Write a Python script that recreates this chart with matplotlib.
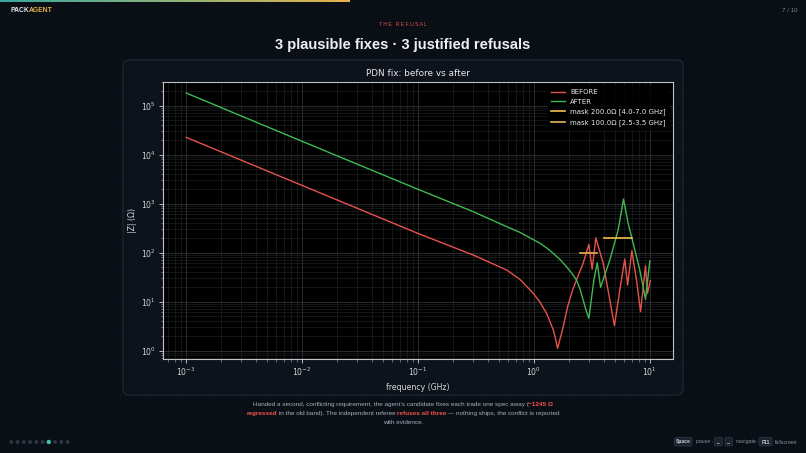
import matplotlib
matplotlib.use('Agg')
import numpy as np
import matplotlib.pyplot as plt
from matplotlib.patches import FancyBboxPatch, Circle
from matplotlib.colors import LinearSegmentedColormap
from matplotlib.ticker import LogLocator, NullFormatter

# ---------------- data ----------------
before_freq = [0.001, 0.01, 0.1, 0.300, 0.582, 0.757, 0.986, 1.125, 1.285, 1.37,
               1.47, 1.53, 1.60, 1.70, 1.79, 1.96, 2.16, 2.40, 2.66, 2.98,
               3.18, 3.42, 3.96, 4.52, 4.95, 5.51, 6.08, 6.43, 7.00, 7.67,
               8.32, 9.18, 9.55, 10.1]
before_z = [22400, 2340, 245, 88.9, 44.0, 28.4, 14.7, 9.8, 5.74, 4.0,
            2.62, 1.8, 1.11, 1.9, 3.06, 8.1, 17.2, 33, 60.3, 147,
            45.4, 200, 60.3, 10.7, 3.21, 17.2, 73.6, 21.7, 109, 27.5,
            6.19, 53.8, 14.7, 26.6]

after_freq = [0.001, 0.01, 0.1, 0.300, 0.582, 0.757, 1.13, 1.30, 1.47, 1.70,
              1.91, 2.12, 2.33, 2.50, 2.66, 2.82, 2.98, 3.29, 3.52, 3.76,
              4.52, 5.33, 5.93, 6.50, 7.43, 8.20, 9.18, 10.0]
after_z = [180000, 18600, 1950, 681, 337, 258, 154, 122, 96, 70,
           51.3, 38, 27.5, 18, 10.7, 6.6, 4.54, 27.5, 61.7, 19.5,
           70.3, 288, 1230, 398, 112, 43.7, 11.1, 67.1]

mask_levels = [200.0, 100.0]
mask_lo = [4.0, 2.5]
mask_hi = [7.0, 3.5]
mask_labels = ['mask 200.0\u03a9 [4.0-7.0 GHz]', 'mask 100.0\u03a9 [2.5-3.5 GHz]']
mask_colors = ['#f2c14e', '#e9b35a']

series_labels = ['BEFORE', 'AFTER']
series_colors = ['#e5534b', '#3fb950']

title_text = '3 plausible fixes \u00b7 3 justified refusals'
kicker_text = 'THE REFUSAL'
chart_title = 'PDN fix: before vs after'

# ---------------- figure ----------------
W, H = 806, 453
BG = '#0a0e15'
fig = plt.figure(figsize=(W / 100, H / 100), dpi=100, facecolor=BG)
bg = fig.add_axes([0, 0, 1, 1])
bg.set_xlim(0, W)
bg.set_ylim(H, 0)
bg.axis('off')
R = fig.canvas.get_renderer()

SANS = ['Liberation Sans', 'DejaVu Sans']

# faint slide grid
for gx in range(0, W, 30):
    bg.plot([gx, gx], [0, H], color='#0e131b', lw=0.6, zorder=0)
for gy in range(0, H, 30):
    bg.plot([0, W], [gy, gy], color='#0e131b', lw=0.6, zorder=0)

# progress bar
cmap = LinearSegmentedColormap.from_list('pb', ['#3aa7a0', '#8fb27a', '#e6b34a'])
bg.imshow(np.linspace(0, 1, 256)[None, :], cmap=cmap, extent=[0, 350, 2.2, 0],
          aspect='auto', zorder=2)
bg.set_xlim(0, W)
bg.set_ylim(H, 0)


def tw(s, **kw):
    t = bg.text(0, 0, s + '|', **kw)
    w1 = t.get_window_extent(R).width
    t.remove()
    t = bg.text(0, 0, '|', **kw)
    w2 = t.get_window_extent(R).width
    t.remove()
    return w1 - w2


def runs_line(runs, x, y, size, family=SANS, ha='center'):
    widths = [tw(s, fontsize=size, fontweight=wt, family=family) for s, c, wt in runs]
    total = sum(widths)
    if ha == 'center':
        x0 = x - total / 2
    elif ha == 'right':
        x0 = x - total
    else:
        x0 = x
    for (s, c, wt), w in zip(runs, widths):
        bg.text(x0, y, s, color=c, fontsize=size, fontweight=wt, family=family,
                ha='left', va='center', zorder=5)
        x0 += w
    return total


# header
runs_line([('PACK', '#e6e8eb', 'bold'), ('AGENT', '#e6b34a', 'bold')], 10.5, 10.5, 4.9,
          ha='left')
runs_line([('7 / 10', '#7d8590', 'normal')], 797, 10.5, 4.4, ha='right')
runs_line([('T H E   R E F U S A L', '#e5534b', 'normal')], 403, 25, 3.7)

# title
tsize = 11.5
w = tw(title_text, fontsize=tsize, fontweight='bold', family=SANS)
tsize *= 256 / w
bg.text(403, 45, title_text, fontsize=tsize, fontweight='bold', family=SANS,
        color='#eef0f3', ha='center', va='center')

# card
card = FancyBboxPatch((123, 60), 560, 335, boxstyle='round,pad=0,rounding_size=6',
                      fc='#0e131b', ec='#222a36', lw=0.8, zorder=1)
bg.add_patch(card)

# caption
GR = '#a7afbb'
RD = '#f0524a'
cap_size = 4.4
l1 = [('Handed a second, conflicting requirement, the agent\u2019s candidate fixes each trade one spec away (', GR, 'normal'),
      ('\u22121245 \u03a9', RD, 'bold')]
wl1 = sum(tw(s, fontsize=cap_size, fontweight=wt, family=SANS) for s, c, wt in l1)
cap_size *= 300 / wl1
runs_line(l1, 403, 404.3, cap_size)
runs_line([('regressed', RD, 'bold'),
           (' in the old band). The independent referee ', GR, 'normal'),
           ('refuses all three', RD, 'bold'),
           (' \u2014 nothing ships, the conflict is reported', GR, 'normal')],
          403, 413.5, cap_size)
runs_line([('with evidence.', GR, 'normal')], 403, 422.7, cap_size)

# dots
for i in range(10):
    cx = 11.3 + 6.25 * i
    if i == 6:
        bg.add_patch(Circle((cx, 442), 1.5, color='#3fc1b0', zorder=5))
    else:
        bg.add_patch(Circle((cx, 442), 1.2, color='#2f3744', zorder=5))


# key hints
def keybox(x0, x1, label):
    bg.add_patch(FancyBboxPatch((x0, 437.5), x1 - x0, 8.5,
                                boxstyle='round,pad=0,rounding_size=1.5',
                                fc='#1b222d', ec='#323b49', lw=0.5, zorder=4))
    bg.text((x0 + x1) / 2, 442, label, fontsize=3.6, family=SANS, color='#c9d1d9',
            ha='center', va='center', zorder=5, fontweight='bold')


keybox(674.5, 692, 'Space')
bg.text(695.5, 442, 'pause \u00b7', fontsize=3.7, family=SANS, color='#8b949e', va='center')
keybox(714.5, 722.4, '\u2190')
keybox(725, 732.6, '\u2192')
bg.text(736, 442, 'navigate \u00b7', fontsize=3.7, family=SANS, color='#8b949e', va='center')
keybox(759, 772, 'F11')
bg.text(775, 442, 'fullscreen', fontsize=3.7, family=SANS, color='#8b949e', va='center')

# ---------------- chart ----------------
ax = fig.add_axes([163 / W, 1 - 359 / H, 510 / W, 277 / H])
ax.set_facecolor('#000000')
ax.set_xscale('log')
ax.set_yscale('log')
ax.plot(before_freq, before_z, color=series_colors[0], lw=1.0, label=series_labels[0],
        zorder=3, solid_joinstyle='round')
ax.plot(after_freq, after_z, color=series_colors[1], lw=1.0, label=series_labels[1],
        zorder=3, solid_joinstyle='round')
for lev, lo, hi, lab, col in zip(mask_levels, mask_lo, mask_hi, mask_labels, mask_colors):
    ax.plot([lo, hi], [lev, lev], color=col, lw=1.2, label=lab, zorder=4)
ax.set_xlim(10 ** -3.2, 10 ** 1.2)
ax.set_ylim(10 ** -0.173, 10 ** 5.48)

ax.xaxis.set_major_locator(LogLocator(base=10, numticks=20))
ax.xaxis.set_minor_locator(LogLocator(base=10, subs=np.arange(2, 10), numticks=100))
ax.yaxis.set_major_locator(LogLocator(base=10, numticks=20))
ax.yaxis.set_minor_locator(LogLocator(base=10, subs=np.arange(2, 10), numticks=100))
ax.xaxis.set_minor_formatter(NullFormatter())
ax.yaxis.set_minor_formatter(NullFormatter())
ax.grid(True, which='major', color='#3a3e43', lw=0.5)
ax.grid(True, which='minor', color='#24272b', lw=0.4)
ax.set_axisbelow(True)
for sp in ax.spines.values():
    sp.set_color('#bfc3c8')
    sp.set_linewidth(0.8)
ax.tick_params(which='major', colors='#cfd3d8', labelsize=5.6, length=3, width=0.6, pad=2)
ax.tick_params(which='minor', colors='#aab0b6', length=1.8, width=0.4)
ax.set_title(chart_title, color='#e6e8eb', fontsize=6.4, pad=4)
ax.set_xlabel('frequency (GHz)', color='#d5d9de', fontsize=5.6, labelpad=3)
ax.set_ylabel('|Z| (\u03a9)', color='#d5d9de', fontsize=5.6, labelpad=3)
leg = ax.legend(loc='upper right', fontsize=5.0, frameon=True, facecolor='#000000',
                edgecolor='#000000', labelcolor='#e6e8eb', handlelength=2.0,
                borderaxespad=0.6, labelspacing=0.55)

fig.savefig('out.png', dpi=100, facecolor=BG)
